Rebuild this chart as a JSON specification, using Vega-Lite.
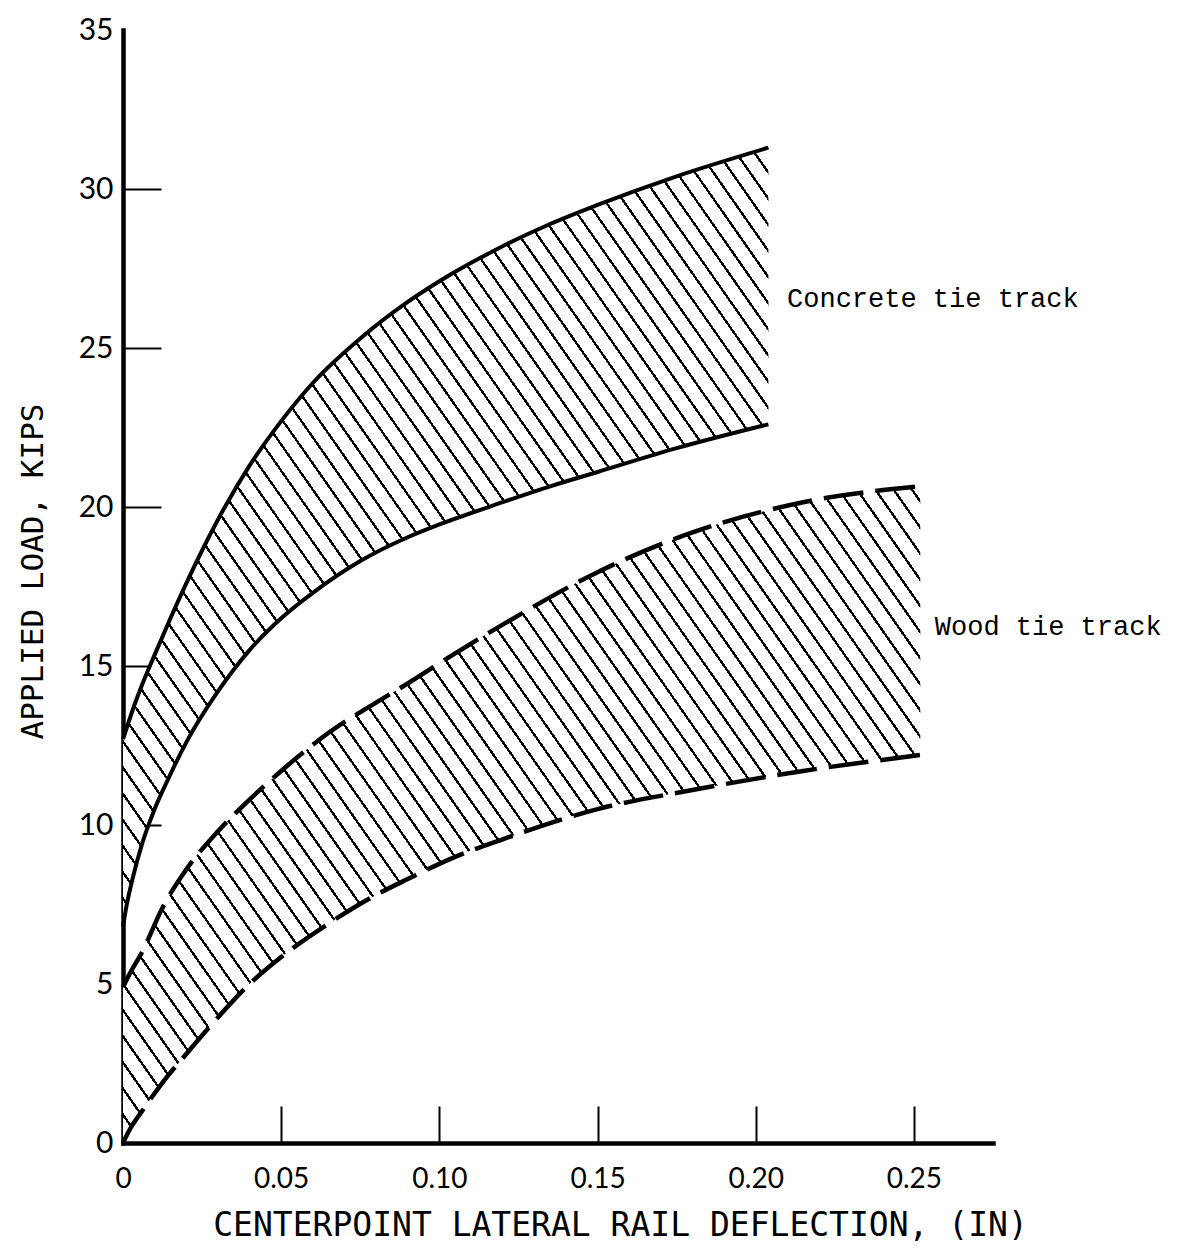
{
"$schema": "https://vega.github.io/schema/vega-lite/v6.json",
"width": 870,
"height": 1113,
"autosize": {"type": "none"},
"padding": {"left": 123, "top": 30, "right": 194, "bottom": 112},
"background": "white",
"config": {"view": {"stroke": null}, "axis": {"grid": false},
 "axisY": {"domainColor": "black", "domainWidth": 4.5, "domainCap": "square",
   "tickColor": "black", "tickWidth": 2, "tickSize": -38,
   "labelPadding": 48, "labelFont": "Lato", "labelFontSize": 30, "labelColor": "black",
   "labelFlush": false, "labelOverlap": false,
   "titleFont": "DejaVu Sans Mono", "titleFontSize": 31, "titleFontWeight": "normal", "titleColor": "black",
   "titleX": -90, "titleY": 541, "titleAngle": -90, "titleAlign": "center", "titleBaseline": "middle"}},
"datasets": {
"concrete": [
{"x":0,"lo":6.8,"hi":12.7},
{"x":0.001,"lo":7.4,"hi":13.0},
{"x":0.003,"lo":8.3,"hi":13.6},
{"x":0.006,"lo":9.4,"hi":14.4},
{"x":0.01,"lo":10.5,"hi":15.35},
{"x":0.015,"lo":11.6,"hi":16.5},
{"x":0.02,"lo":12.6,"hi":17.6},
{"x":0.03,"lo":14.2,"hi":19.6},
{"x":0.04,"lo":15.5,"hi":21.3},
{"x":0.05,"lo":16.5,"hi":22.7},
{"x":0.06,"lo":17.3,"hi":23.9},
{"x":0.075,"lo":18.3,"hi":25.3},
{"x":0.09,"lo":19.05,"hi":26.45},
{"x":0.1,"lo":19.45,"hi":27.1},
{"x":0.12,"lo":20.15,"hi":28.2},
{"x":0.135,"lo":20.65,"hi":28.9},
{"x":0.15,"lo":21.1,"hi":29.5},
{"x":0.175,"lo":21.85,"hi":30.4},
{"x":0.204,"lo":22.6,"hi":31.3}
],
"wood": [
{"x":0,"lo":0,"hi":4.9},
{"x":0.002,"lo":0.4,"hi":5.3},
{"x":0.006,"lo":1.0,"hi":6.0},
{"x":0.0125,"lo":1.9,"hi":7.4},
{"x":0.02,"lo":2.8,"hi":8.6},
{"x":0.03,"lo":3.95,"hi":9.8},
{"x":0.04,"lo":5.0,"hi":10.8},
{"x":0.05,"lo":5.85,"hi":11.7},
{"x":0.065,"lo":6.9,"hi":12.9},
{"x":0.08,"lo":7.8,"hi":13.85},
{"x":0.09,"lo":8.3,"hi":14.45},
{"x":0.105,"lo":9.0,"hi":15.4},
{"x":0.12,"lo":9.55,"hi":16.3},
{"x":0.15,"lo":10.5,"hi":17.95},
{"x":0.18,"lo":11.1,"hi":19.2},
{"x":0.215,"lo":11.7,"hi":20.15},
{"x":0.252,"lo":12.2,"hi":20.65}
]
},
"encoding": {
"x": {"field": "x", "type": "quantitative",
 "scale": {"domain": [0, 0.275], "nice": false, "zero": false},
 "axis": {"title": "CENTERPOINT LATERAL RAIL DEFLECTION, (IN)",
  "values": [0, 0.05, 0.1, 0.15, 0.2, 0.25],
  "labelExpr": "datum.value == 0 ? '0' : format(datum.value, '.2f')",
  "domainColor": "black", "domainWidth": 4.5, "domainCap": "square",
  "tickColor": "black", "tickWidth": 2, "tickSize": -37,
  "labelPadding": 59, "labelFont": "Lato", "labelFontSize": 28, "labelColor": "black",
  "labelFlush": false, "labelOverlap": false,
  "titleFont": "DejaVu Sans Mono", "titleFontSize": 33, "titleFontWeight": "normal", "titleColor": "black",
  "titleX": 497, "titleY": 82, "titleAlign": "center", "titleBaseline": "middle"}}
},
"layer": [
{
"data": {"name": "concrete"},
"mark": {"type": "area", "interpolate": "monotone", "opacity": 1,
 "fill": {"gradient": "linear", "x1": 0, "y1": 1, "x2": 1.4389, "y2": -0.2168, "stops": [
{"offset":0,"color":"#000"},{"offset":0.0018,"color":"#000"},{"offset":0.0018,"color":"#fff"},{"offset":0.0115,"color":"#fff"},
{"offset":0.0115,"color":"#000"},{"offset":0.0133,"color":"#000"},{"offset":0.0133,"color":"#fff"},{"offset":0.023,"color":"#fff"},
{"offset":0.023,"color":"#000"},{"offset":0.0248,"color":"#000"},{"offset":0.0248,"color":"#fff"},{"offset":0.0345,"color":"#fff"},
{"offset":0.0345,"color":"#000"},{"offset":0.0363,"color":"#000"},{"offset":0.0363,"color":"#fff"},{"offset":0.046,"color":"#fff"},
{"offset":0.046,"color":"#000"},{"offset":0.0478,"color":"#000"},{"offset":0.0478,"color":"#fff"},{"offset":0.0575,"color":"#fff"},
{"offset":0.0575,"color":"#000"},{"offset":0.0593,"color":"#000"},{"offset":0.0593,"color":"#fff"},{"offset":0.069,"color":"#fff"},
{"offset":0.069,"color":"#000"},{"offset":0.0708,"color":"#000"},{"offset":0.0708,"color":"#fff"},{"offset":0.0805,"color":"#fff"},
{"offset":0.0805,"color":"#000"},{"offset":0.0823,"color":"#000"},{"offset":0.0823,"color":"#fff"},{"offset":0.092,"color":"#fff"},
{"offset":0.092,"color":"#000"},{"offset":0.0938,"color":"#000"},{"offset":0.0938,"color":"#fff"},{"offset":0.1035,"color":"#fff"},
{"offset":0.1035,"color":"#000"},{"offset":0.1053,"color":"#000"},{"offset":0.1053,"color":"#fff"},{"offset":0.115,"color":"#fff"},
{"offset":0.115,"color":"#000"},{"offset":0.1168,"color":"#000"},{"offset":0.1168,"color":"#fff"},{"offset":0.1265,"color":"#fff"},
{"offset":0.1265,"color":"#000"},{"offset":0.1283,"color":"#000"},{"offset":0.1283,"color":"#fff"},{"offset":0.138,"color":"#fff"},
{"offset":0.138,"color":"#000"},{"offset":0.1398,"color":"#000"},{"offset":0.1398,"color":"#fff"},{"offset":0.1495,"color":"#fff"},
{"offset":0.1495,"color":"#000"},{"offset":0.1513,"color":"#000"},{"offset":0.1513,"color":"#fff"},{"offset":0.161,"color":"#fff"},
{"offset":0.161,"color":"#000"},{"offset":0.1628,"color":"#000"},{"offset":0.1628,"color":"#fff"},{"offset":0.1725,"color":"#fff"},
{"offset":0.1725,"color":"#000"},{"offset":0.1743,"color":"#000"},{"offset":0.1743,"color":"#fff"},{"offset":0.184,"color":"#fff"},
{"offset":0.184,"color":"#000"},{"offset":0.1858,"color":"#000"},{"offset":0.1858,"color":"#fff"},{"offset":0.1955,"color":"#fff"},
{"offset":0.1955,"color":"#000"},{"offset":0.1973,"color":"#000"},{"offset":0.1973,"color":"#fff"},{"offset":0.207,"color":"#fff"},
{"offset":0.207,"color":"#000"},{"offset":0.2088,"color":"#000"},{"offset":0.2088,"color":"#fff"},{"offset":0.2185,"color":"#fff"},
{"offset":0.2185,"color":"#000"},{"offset":0.2203,"color":"#000"},{"offset":0.2203,"color":"#fff"},{"offset":0.23,"color":"#fff"},
{"offset":0.23,"color":"#000"},{"offset":0.2318,"color":"#000"},{"offset":0.2318,"color":"#fff"},{"offset":0.2415,"color":"#fff"},
{"offset":0.2415,"color":"#000"},{"offset":0.2433,"color":"#000"},{"offset":0.2433,"color":"#fff"},{"offset":0.253,"color":"#fff"},
{"offset":0.253,"color":"#000"},{"offset":0.2548,"color":"#000"},{"offset":0.2548,"color":"#fff"},{"offset":0.2645,"color":"#fff"},
{"offset":0.2645,"color":"#000"},{"offset":0.2663,"color":"#000"},{"offset":0.2663,"color":"#fff"},{"offset":0.276,"color":"#fff"},
{"offset":0.276,"color":"#000"},{"offset":0.2778,"color":"#000"},{"offset":0.2778,"color":"#fff"},{"offset":0.2875,"color":"#fff"},
{"offset":0.2875,"color":"#000"},{"offset":0.2893,"color":"#000"},{"offset":0.2893,"color":"#fff"},{"offset":0.299,"color":"#fff"},
{"offset":0.299,"color":"#000"},{"offset":0.3008,"color":"#000"},{"offset":0.3008,"color":"#fff"},{"offset":0.3105,"color":"#fff"},
{"offset":0.3105,"color":"#000"},{"offset":0.3123,"color":"#000"},{"offset":0.3123,"color":"#fff"},{"offset":0.322,"color":"#fff"},
{"offset":0.322,"color":"#000"},{"offset":0.3238,"color":"#000"},{"offset":0.3238,"color":"#fff"},{"offset":0.3335,"color":"#fff"},
{"offset":0.3335,"color":"#000"},{"offset":0.3353,"color":"#000"},{"offset":0.3353,"color":"#fff"},{"offset":0.345,"color":"#fff"},
{"offset":0.345,"color":"#000"},{"offset":0.3468,"color":"#000"},{"offset":0.3468,"color":"#fff"},{"offset":0.3565,"color":"#fff"},
{"offset":0.3565,"color":"#000"},{"offset":0.3583,"color":"#000"},{"offset":0.3583,"color":"#fff"},{"offset":0.368,"color":"#fff"},
{"offset":0.368,"color":"#000"},{"offset":0.3698,"color":"#000"},{"offset":0.3698,"color":"#fff"},{"offset":0.3795,"color":"#fff"},
{"offset":0.3795,"color":"#000"},{"offset":0.3813,"color":"#000"},{"offset":0.3813,"color":"#fff"},{"offset":0.391,"color":"#fff"},
{"offset":0.391,"color":"#000"},{"offset":0.3928,"color":"#000"},{"offset":0.3928,"color":"#fff"},{"offset":0.4025,"color":"#fff"},
{"offset":0.4025,"color":"#000"},{"offset":0.4043,"color":"#000"},{"offset":0.4043,"color":"#fff"},{"offset":0.414,"color":"#fff"},
{"offset":0.414,"color":"#000"},{"offset":0.4158,"color":"#000"},{"offset":0.4158,"color":"#fff"},{"offset":0.4255,"color":"#fff"},
{"offset":0.4255,"color":"#000"},{"offset":0.4273,"color":"#000"},{"offset":0.4273,"color":"#fff"},{"offset":0.437,"color":"#fff"},
{"offset":0.437,"color":"#000"},{"offset":0.4388,"color":"#000"},{"offset":0.4388,"color":"#fff"},{"offset":0.4485,"color":"#fff"},
{"offset":0.4485,"color":"#000"},{"offset":0.4503,"color":"#000"},{"offset":0.4503,"color":"#fff"},{"offset":0.46,"color":"#fff"},
{"offset":0.46,"color":"#000"},{"offset":0.4618,"color":"#000"},{"offset":0.4618,"color":"#fff"},{"offset":0.4715,"color":"#fff"},
{"offset":0.4715,"color":"#000"},{"offset":0.4733,"color":"#000"},{"offset":0.4733,"color":"#fff"},{"offset":0.483,"color":"#fff"},
{"offset":0.483,"color":"#000"},{"offset":0.4848,"color":"#000"},{"offset":0.4848,"color":"#fff"},{"offset":0.4945,"color":"#fff"},
{"offset":0.4945,"color":"#000"},{"offset":0.4963,"color":"#000"},{"offset":0.4963,"color":"#fff"},{"offset":0.506,"color":"#fff"},
{"offset":0.506,"color":"#000"},{"offset":0.5078,"color":"#000"},{"offset":0.5078,"color":"#fff"},{"offset":0.5175,"color":"#fff"},
{"offset":0.5175,"color":"#000"},{"offset":0.5193,"color":"#000"},{"offset":0.5193,"color":"#fff"},{"offset":0.529,"color":"#fff"},
{"offset":0.529,"color":"#000"},{"offset":0.5308,"color":"#000"},{"offset":0.5308,"color":"#fff"},{"offset":0.5405,"color":"#fff"},
{"offset":0.5405,"color":"#000"},{"offset":0.5423,"color":"#000"},{"offset":0.5423,"color":"#fff"},{"offset":0.552,"color":"#fff"},
{"offset":0.552,"color":"#000"},{"offset":0.5538,"color":"#000"},{"offset":0.5538,"color":"#fff"},{"offset":0.5635,"color":"#fff"},
{"offset":0.5635,"color":"#000"},{"offset":0.5653,"color":"#000"},{"offset":0.5653,"color":"#fff"},{"offset":0.575,"color":"#fff"},
{"offset":0.575,"color":"#000"},{"offset":0.5768,"color":"#000"},{"offset":0.5768,"color":"#fff"},{"offset":0.5865,"color":"#fff"},
{"offset":0.5865,"color":"#000"},{"offset":0.5883,"color":"#000"},{"offset":0.5883,"color":"#fff"},{"offset":0.598,"color":"#fff"},
{"offset":0.598,"color":"#000"},{"offset":0.5998,"color":"#000"},{"offset":0.5998,"color":"#fff"},{"offset":0.6095,"color":"#fff"},
{"offset":0.6095,"color":"#000"},{"offset":0.6113,"color":"#000"},{"offset":0.6113,"color":"#fff"},{"offset":0.621,"color":"#fff"},
{"offset":0.621,"color":"#000"},{"offset":0.6228,"color":"#000"},{"offset":0.6228,"color":"#fff"},{"offset":0.6325,"color":"#fff"},
{"offset":0.6325,"color":"#000"},{"offset":0.6343,"color":"#000"},{"offset":0.6343,"color":"#fff"},{"offset":0.644,"color":"#fff"},
{"offset":0.644,"color":"#000"},{"offset":0.6458,"color":"#000"},{"offset":0.6458,"color":"#fff"},{"offset":0.6555,"color":"#fff"},
{"offset":0.6555,"color":"#000"},{"offset":0.6573,"color":"#000"},{"offset":0.6573,"color":"#fff"},{"offset":0.667,"color":"#fff"},
{"offset":0.667,"color":"#000"},{"offset":0.6688,"color":"#000"},{"offset":0.6688,"color":"#fff"},{"offset":0.6785,"color":"#fff"},
{"offset":0.6785,"color":"#000"},{"offset":0.6803,"color":"#000"},{"offset":0.6803,"color":"#fff"},{"offset":0.69,"color":"#fff"},
{"offset":0.69,"color":"#000"},{"offset":0.6918,"color":"#000"},{"offset":0.6918,"color":"#fff"},{"offset":0.7015,"color":"#fff"},
{"offset":0.7015,"color":"#000"},{"offset":0.7033,"color":"#000"},{"offset":0.7033,"color":"#fff"},{"offset":0.713,"color":"#fff"},
{"offset":0.713,"color":"#000"},{"offset":0.7148,"color":"#000"},{"offset":0.7148,"color":"#fff"},{"offset":0.7245,"color":"#fff"},
{"offset":0.7245,"color":"#000"},{"offset":0.7263,"color":"#000"},{"offset":0.7263,"color":"#fff"},{"offset":0.736,"color":"#fff"},
{"offset":0.736,"color":"#000"},{"offset":0.7378,"color":"#000"},{"offset":0.7378,"color":"#fff"},{"offset":0.7475,"color":"#fff"},
{"offset":0.7475,"color":"#000"},{"offset":0.7493,"color":"#000"},{"offset":0.7493,"color":"#fff"},{"offset":0.759,"color":"#fff"},
{"offset":0.759,"color":"#000"},{"offset":0.7608,"color":"#000"},{"offset":0.7608,"color":"#fff"},{"offset":0.7705,"color":"#fff"},
{"offset":0.7705,"color":"#000"},{"offset":0.7723,"color":"#000"},{"offset":0.7723,"color":"#fff"},{"offset":0.782,"color":"#fff"},
{"offset":0.782,"color":"#000"},{"offset":0.7838,"color":"#000"},{"offset":0.7838,"color":"#fff"},{"offset":1,"color":"#fff"}
]}},
"encoding": {
 "y": {"field": "hi", "type": "quantitative", "scale": {"domain": [0, 35], "nice": false, "zero": false},
  "axis": {"title": "APPLIED LOAD, KIPS", "values": [0, 5, 10, 15, 20, 25, 30, 35],
   "tickOpacity": {"condition": {"test": "datum.value === 35 || datum.value === 0", "value": 0}, "value": 1}}},
 "y2": {"field": "lo"}
}
},
{
"data": {"name": "wood"},
"mark": {"type": "area", "interpolate": "monotone", "opacity": 1,
 "fill": {"gradient": "linear", "x1": 0, "y1": 1, "x2": 1.4985, "y2": 0.1354, "stops": [
{"offset":0,"color":"#000"},{"offset":0.0018,"color":"#000"},{"offset":0.0018,"color":"#fff"},{"offset":0.0115,"color":"#fff"},
{"offset":0.0115,"color":"#000"},{"offset":0.0133,"color":"#000"},{"offset":0.0133,"color":"#fff"},{"offset":0.023,"color":"#fff"},
{"offset":0.023,"color":"#000"},{"offset":0.0248,"color":"#000"},{"offset":0.0248,"color":"#fff"},{"offset":0.0345,"color":"#fff"},
{"offset":0.0345,"color":"#000"},{"offset":0.0363,"color":"#000"},{"offset":0.0363,"color":"#fff"},{"offset":0.046,"color":"#fff"},
{"offset":0.046,"color":"#000"},{"offset":0.0478,"color":"#000"},{"offset":0.0478,"color":"#fff"},{"offset":0.0575,"color":"#fff"},
{"offset":0.0575,"color":"#000"},{"offset":0.0593,"color":"#000"},{"offset":0.0593,"color":"#fff"},{"offset":0.069,"color":"#fff"},
{"offset":0.069,"color":"#000"},{"offset":0.0708,"color":"#000"},{"offset":0.0708,"color":"#fff"},{"offset":0.0805,"color":"#fff"},
{"offset":0.0805,"color":"#000"},{"offset":0.0823,"color":"#000"},{"offset":0.0823,"color":"#fff"},{"offset":0.092,"color":"#fff"},
{"offset":0.092,"color":"#000"},{"offset":0.0938,"color":"#000"},{"offset":0.0938,"color":"#fff"},{"offset":0.1035,"color":"#fff"},
{"offset":0.1035,"color":"#000"},{"offset":0.1053,"color":"#000"},{"offset":0.1053,"color":"#fff"},{"offset":0.115,"color":"#fff"},
{"offset":0.115,"color":"#000"},{"offset":0.1168,"color":"#000"},{"offset":0.1168,"color":"#fff"},{"offset":0.1265,"color":"#fff"},
{"offset":0.1265,"color":"#000"},{"offset":0.1283,"color":"#000"},{"offset":0.1283,"color":"#fff"},{"offset":0.138,"color":"#fff"},
{"offset":0.138,"color":"#000"},{"offset":0.1398,"color":"#000"},{"offset":0.1398,"color":"#fff"},{"offset":0.1495,"color":"#fff"},
{"offset":0.1495,"color":"#000"},{"offset":0.1513,"color":"#000"},{"offset":0.1513,"color":"#fff"},{"offset":0.161,"color":"#fff"},
{"offset":0.161,"color":"#000"},{"offset":0.1628,"color":"#000"},{"offset":0.1628,"color":"#fff"},{"offset":0.1725,"color":"#fff"},
{"offset":0.1725,"color":"#000"},{"offset":0.1743,"color":"#000"},{"offset":0.1743,"color":"#fff"},{"offset":0.184,"color":"#fff"},
{"offset":0.184,"color":"#000"},{"offset":0.1858,"color":"#000"},{"offset":0.1858,"color":"#fff"},{"offset":0.1955,"color":"#fff"},
{"offset":0.1955,"color":"#000"},{"offset":0.1973,"color":"#000"},{"offset":0.1973,"color":"#fff"},{"offset":0.207,"color":"#fff"},
{"offset":0.207,"color":"#000"},{"offset":0.2088,"color":"#000"},{"offset":0.2088,"color":"#fff"},{"offset":0.2185,"color":"#fff"},
{"offset":0.2185,"color":"#000"},{"offset":0.2203,"color":"#000"},{"offset":0.2203,"color":"#fff"},{"offset":0.23,"color":"#fff"},
{"offset":0.23,"color":"#000"},{"offset":0.2318,"color":"#000"},{"offset":0.2318,"color":"#fff"},{"offset":0.2415,"color":"#fff"},
{"offset":0.2415,"color":"#000"},{"offset":0.2433,"color":"#000"},{"offset":0.2433,"color":"#fff"},{"offset":0.253,"color":"#fff"},
{"offset":0.253,"color":"#000"},{"offset":0.2548,"color":"#000"},{"offset":0.2548,"color":"#fff"},{"offset":0.2645,"color":"#fff"},
{"offset":0.2645,"color":"#000"},{"offset":0.2663,"color":"#000"},{"offset":0.2663,"color":"#fff"},{"offset":0.276,"color":"#fff"},
{"offset":0.276,"color":"#000"},{"offset":0.2778,"color":"#000"},{"offset":0.2778,"color":"#fff"},{"offset":0.2875,"color":"#fff"},
{"offset":0.2875,"color":"#000"},{"offset":0.2893,"color":"#000"},{"offset":0.2893,"color":"#fff"},{"offset":0.299,"color":"#fff"},
{"offset":0.299,"color":"#000"},{"offset":0.3008,"color":"#000"},{"offset":0.3008,"color":"#fff"},{"offset":0.3105,"color":"#fff"},
{"offset":0.3105,"color":"#000"},{"offset":0.3123,"color":"#000"},{"offset":0.3123,"color":"#fff"},{"offset":0.322,"color":"#fff"},
{"offset":0.322,"color":"#000"},{"offset":0.3238,"color":"#000"},{"offset":0.3238,"color":"#fff"},{"offset":0.3335,"color":"#fff"},
{"offset":0.3335,"color":"#000"},{"offset":0.3353,"color":"#000"},{"offset":0.3353,"color":"#fff"},{"offset":0.345,"color":"#fff"},
{"offset":0.345,"color":"#000"},{"offset":0.3468,"color":"#000"},{"offset":0.3468,"color":"#fff"},{"offset":0.3565,"color":"#fff"},
{"offset":0.3565,"color":"#000"},{"offset":0.3583,"color":"#000"},{"offset":0.3583,"color":"#fff"},{"offset":0.368,"color":"#fff"},
{"offset":0.368,"color":"#000"},{"offset":0.3698,"color":"#000"},{"offset":0.3698,"color":"#fff"},{"offset":0.3795,"color":"#fff"},
{"offset":0.3795,"color":"#000"},{"offset":0.3813,"color":"#000"},{"offset":0.3813,"color":"#fff"},{"offset":0.391,"color":"#fff"},
{"offset":0.391,"color":"#000"},{"offset":0.3928,"color":"#000"},{"offset":0.3928,"color":"#fff"},{"offset":0.4025,"color":"#fff"},
{"offset":0.4025,"color":"#000"},{"offset":0.4043,"color":"#000"},{"offset":0.4043,"color":"#fff"},{"offset":0.414,"color":"#fff"},
{"offset":0.414,"color":"#000"},{"offset":0.4158,"color":"#000"},{"offset":0.4158,"color":"#fff"},{"offset":0.4255,"color":"#fff"},
{"offset":0.4255,"color":"#000"},{"offset":0.4273,"color":"#000"},{"offset":0.4273,"color":"#fff"},{"offset":0.437,"color":"#fff"},
{"offset":0.437,"color":"#000"},{"offset":0.4388,"color":"#000"},{"offset":0.4388,"color":"#fff"},{"offset":0.4485,"color":"#fff"},
{"offset":0.4485,"color":"#000"},{"offset":0.4503,"color":"#000"},{"offset":0.4503,"color":"#fff"},{"offset":0.46,"color":"#fff"},
{"offset":0.46,"color":"#000"},{"offset":0.4618,"color":"#000"},{"offset":0.4618,"color":"#fff"},{"offset":0.4715,"color":"#fff"},
{"offset":0.4715,"color":"#000"},{"offset":0.4733,"color":"#000"},{"offset":0.4733,"color":"#fff"},{"offset":0.483,"color":"#fff"},
{"offset":0.483,"color":"#000"},{"offset":0.4848,"color":"#000"},{"offset":0.4848,"color":"#fff"},{"offset":0.4945,"color":"#fff"},
{"offset":0.4945,"color":"#000"},{"offset":0.4963,"color":"#000"},{"offset":0.4963,"color":"#fff"},{"offset":0.506,"color":"#fff"},
{"offset":0.506,"color":"#000"},{"offset":0.5078,"color":"#000"},{"offset":0.5078,"color":"#fff"},{"offset":0.5175,"color":"#fff"},
{"offset":0.5175,"color":"#000"},{"offset":0.5193,"color":"#000"},{"offset":0.5193,"color":"#fff"},{"offset":0.529,"color":"#fff"},
{"offset":0.529,"color":"#000"},{"offset":0.5308,"color":"#000"},{"offset":0.5308,"color":"#fff"},{"offset":0.5405,"color":"#fff"},
{"offset":0.5405,"color":"#000"},{"offset":0.5423,"color":"#000"},{"offset":0.5423,"color":"#fff"},{"offset":0.552,"color":"#fff"},
{"offset":0.552,"color":"#000"},{"offset":0.5538,"color":"#000"},{"offset":0.5538,"color":"#fff"},{"offset":0.5635,"color":"#fff"},
{"offset":0.5635,"color":"#000"},{"offset":0.5653,"color":"#000"},{"offset":0.5653,"color":"#fff"},{"offset":0.575,"color":"#fff"},
{"offset":0.575,"color":"#000"},{"offset":0.5768,"color":"#000"},{"offset":0.5768,"color":"#fff"},{"offset":0.5865,"color":"#fff"},
{"offset":0.5865,"color":"#000"},{"offset":0.5883,"color":"#000"},{"offset":0.5883,"color":"#fff"},{"offset":0.598,"color":"#fff"},
{"offset":0.598,"color":"#000"},{"offset":0.5998,"color":"#000"},{"offset":0.5998,"color":"#fff"},{"offset":0.6095,"color":"#fff"},
{"offset":0.6095,"color":"#000"},{"offset":0.6113,"color":"#000"},{"offset":0.6113,"color":"#fff"},{"offset":0.621,"color":"#fff"},
{"offset":0.621,"color":"#000"},{"offset":0.6228,"color":"#000"},{"offset":0.6228,"color":"#fff"},{"offset":0.6325,"color":"#fff"},
{"offset":0.6325,"color":"#000"},{"offset":0.6343,"color":"#000"},{"offset":0.6343,"color":"#fff"},{"offset":0.644,"color":"#fff"},
{"offset":0.644,"color":"#000"},{"offset":0.6458,"color":"#000"},{"offset":0.6458,"color":"#fff"},{"offset":0.6555,"color":"#fff"},
{"offset":0.6555,"color":"#000"},{"offset":0.6573,"color":"#000"},{"offset":0.6573,"color":"#fff"},{"offset":0.667,"color":"#fff"},
{"offset":0.667,"color":"#000"},{"offset":0.6688,"color":"#000"},{"offset":0.6688,"color":"#fff"},{"offset":0.6785,"color":"#fff"},
{"offset":0.6785,"color":"#000"},{"offset":0.6803,"color":"#000"},{"offset":0.6803,"color":"#fff"},{"offset":0.69,"color":"#fff"},
{"offset":0.69,"color":"#000"},{"offset":0.6918,"color":"#000"},{"offset":0.6918,"color":"#fff"},{"offset":0.7015,"color":"#fff"},
{"offset":0.7015,"color":"#000"},{"offset":0.7033,"color":"#000"},{"offset":0.7033,"color":"#fff"},{"offset":0.713,"color":"#fff"},
{"offset":0.713,"color":"#000"},{"offset":0.7148,"color":"#000"},{"offset":0.7148,"color":"#fff"},{"offset":0.7245,"color":"#fff"},
{"offset":0.7245,"color":"#000"},{"offset":0.7263,"color":"#000"},{"offset":0.7263,"color":"#fff"},{"offset":0.736,"color":"#fff"},
{"offset":0.736,"color":"#000"},{"offset":0.7378,"color":"#000"},{"offset":0.7378,"color":"#fff"},{"offset":0.7475,"color":"#fff"},
{"offset":0.7475,"color":"#000"},{"offset":0.7493,"color":"#000"},{"offset":0.7493,"color":"#fff"},{"offset":0.759,"color":"#fff"},
{"offset":0.759,"color":"#000"},{"offset":0.7608,"color":"#000"},{"offset":0.7608,"color":"#fff"},{"offset":0.7705,"color":"#fff"},
{"offset":0.7705,"color":"#000"},{"offset":0.7723,"color":"#000"},{"offset":0.7723,"color":"#fff"},{"offset":0.782,"color":"#fff"},
{"offset":0.782,"color":"#000"},{"offset":0.7838,"color":"#000"},{"offset":0.7838,"color":"#fff"},{"offset":0.7935,"color":"#fff"},
{"offset":0.7935,"color":"#000"},{"offset":0.7953,"color":"#000"},{"offset":0.7953,"color":"#fff"},{"offset":1,"color":"#fff"}
]}},
"encoding": {
 "y": {"field": "hi", "type": "quantitative", "scale": {"domain": [0, 35], "nice": false, "zero": false},
  "axis": {"title": "APPLIED LOAD, KIPS", "values": [0, 5, 10, 15, 20, 25, 30, 35],
   "tickOpacity": {"condition": {"test": "datum.value === 35 || datum.value === 0", "value": 0}, "value": 1}}},
 "y2": {"field": "lo"}
}
},
{
"data": {"name": "concrete"},
"mark": {"type": "line", "interpolate": "monotone", "color": "black", "strokeWidth": 4},
"encoding": {"y": {"field": "hi", "type": "quantitative", "scale": {"domain": [0, 35], "nice": false, "zero": false},
  "axis": {"title": "APPLIED LOAD, KIPS", "values": [0, 5, 10, 15, 20, 25, 30, 35],
   "tickOpacity": {"condition": {"test": "datum.value === 35 || datum.value === 0", "value": 0}, "value": 1}}}}
},
{
"data": {"name": "concrete"},
"mark": {"type": "line", "interpolate": "monotone", "color": "black", "strokeWidth": 4},
"encoding": {"y": {"field": "lo", "type": "quantitative", "scale": {"domain": [0, 35], "nice": false, "zero": false},
  "axis": {"title": "APPLIED LOAD, KIPS", "values": [0, 5, 10, 15, 20, 25, 30, 35],
   "tickOpacity": {"condition": {"test": "datum.value === 35 || datum.value === 0", "value": 0}, "value": 1}}}}
},
{
"data": {"name": "wood"},
"mark": {"type": "line", "interpolate": "monotone", "color": "black", "strokeWidth": 4.5, "strokeDash": [40, 12]},
"encoding": {"y": {"field": "hi", "type": "quantitative", "scale": {"domain": [0, 35], "nice": false, "zero": false},
  "axis": {"title": "APPLIED LOAD, KIPS", "values": [0, 5, 10, 15, 20, 25, 30, 35],
   "tickOpacity": {"condition": {"test": "datum.value === 35 || datum.value === 0", "value": 0}, "value": 1}}}}
},
{
"data": {"name": "wood"},
"mark": {"type": "line", "interpolate": "monotone", "color": "black", "strokeWidth": 4.5, "strokeDash": [40, 12]},
"encoding": {"y": {"field": "lo", "type": "quantitative", "scale": {"domain": [0, 35], "nice": false, "zero": false},
  "axis": {"title": "APPLIED LOAD, KIPS", "values": [0, 5, 10, 15, 20, 25, 30, 35],
   "tickOpacity": {"condition": {"test": "datum.value === 35 || datum.value === 0", "value": 0}, "value": 1}}}}
},
{
"data": {"values": [
 {"label": "Concrete tie track", "x": 0.2099, "y": 26.3},
 {"label": "Wood tie track", "x": 0.2566, "y": 15.97}
]},
"mark": {"type": "text", "align": "left", "baseline": "alphabetic", "font": "Liberation Mono", "fontSize": 27, "color": "black"},
"encoding": {
 "y": {"field": "y", "type": "quantitative", "scale": {"domain": [0, 35], "nice": false, "zero": false},
  "axis": {"title": "APPLIED LOAD, KIPS", "values": [0, 5, 10, 15, 20, 25, 30, 35],
   "tickOpacity": {"condition": {"test": "datum.value === 35 || datum.value === 0", "value": 0}, "value": 1}}},
 "text": {"field": "label"}
}
}
]
}
